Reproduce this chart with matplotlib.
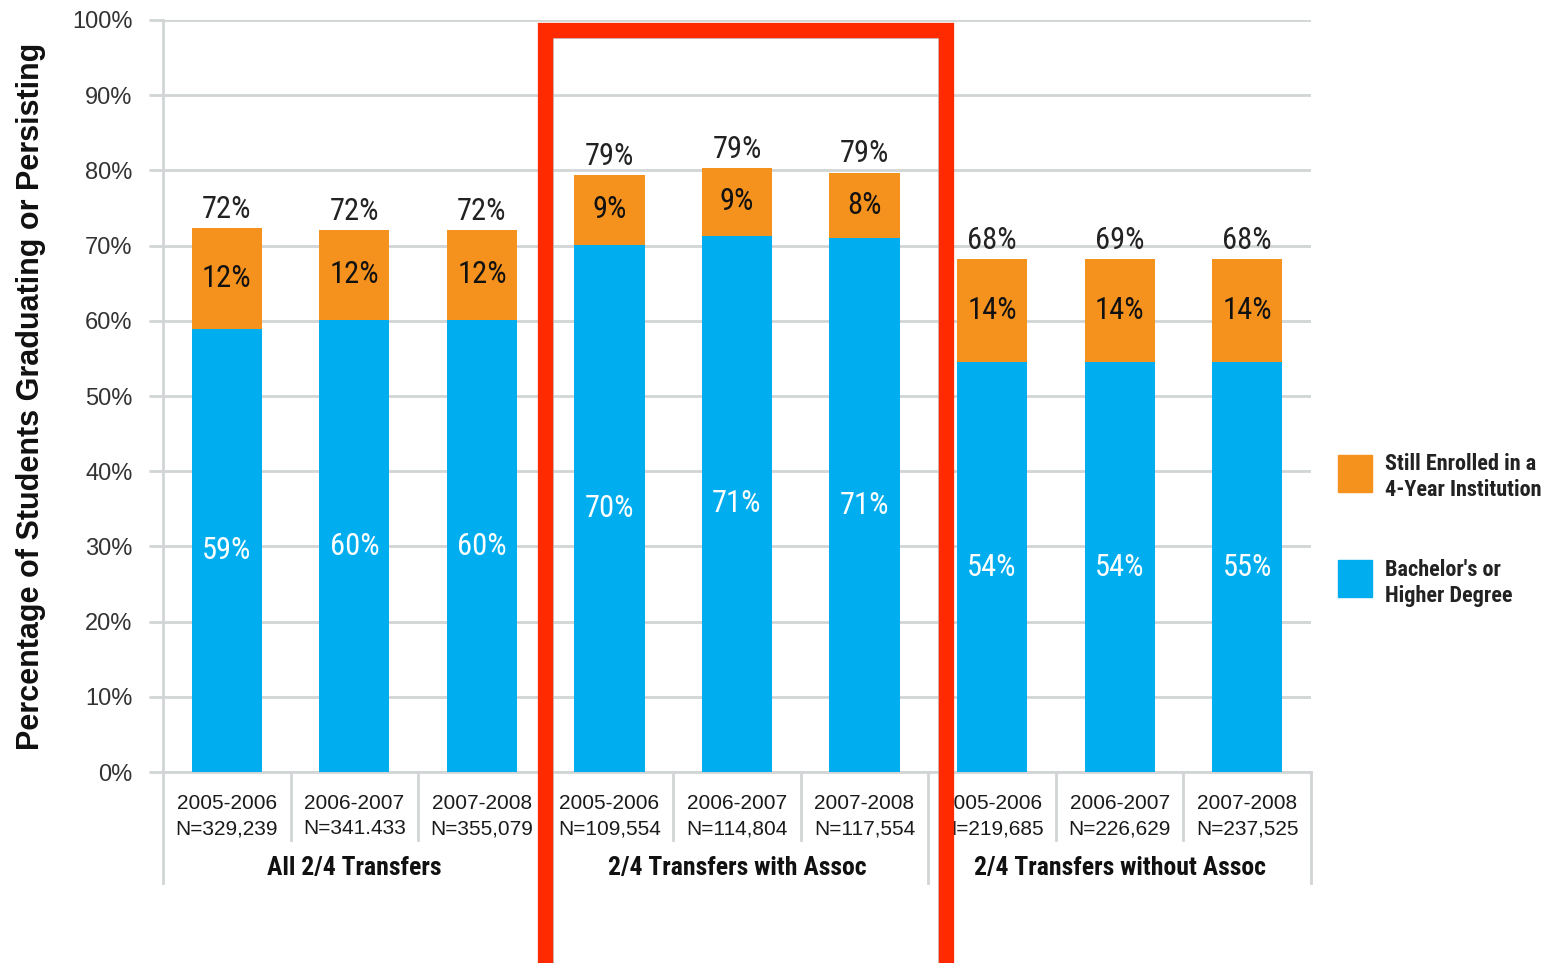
import matplotlib
matplotlib.use("Agg")
import matplotlib.pyplot as plt
from matplotlib.patches import Rectangle
import matplotlib.transforms as mtransforms

# data
years = ["2005-2006", "2006-2007", "2007-2008"] * 3
counts = ["N=329,239", "N=341.433", "N=355,079",
          "N=109,554", "N=114,804", "N=117,554",
          "N=219,685", "N=226,629", "N=237,525"]
groups = ["All 2/4 Transfers", "2/4 Transfers with Assoc", "2/4 Transfers without Assoc"]

# bar heights
bachelor = [58.9, 60.1, 60.1, 70.1, 71.3, 71.0, 54.5, 54.5, 54.5]
enrolled = [13.4, 12.0, 12.0, 9.3, 9.0, 8.7, 13.7, 13.7, 13.7]

# printed labels
bachelor_lbl = [59, 60, 60, 70, 71, 71, 54, 54, 55]
enrolled_lbl = [12, 12, 12, 9, 9, 8, 14, 14, 14]
total_lbl = [72, 72, 72, 79, 79, 79, 68, 69, 68]

BLUE = "#00AEEF"
ORANGE = "#F5921E"
GRID = "#D2D5D5"
RED = "#FF2A00"

NARROW = ["Roboto Condensed", "DejaVu Sans"]
plt.rcParams['font.family'] = ["Liberation Sans", "DejaVu Sans"]

W, H = 1556, 963
L, R = 163, 1311
fig = plt.figure(figsize=(15.56, 9.63), dpi=100)
ax = fig.add_axes([L / W, 1 - 772 / H, (R - L) / W, 752 / H])

x = list(range(len(bachelor)))
ax.bar(x, bachelor, width=0.55, color=BLUE, zorder=3)
ax.bar(x, enrolled, width=0.55, bottom=bachelor, color=ORANGE, zorder=3)

num_kw = dict(fontsize=22, family=NARROW, stretch="condensed")
for i in x:
    top = bachelor[i] + enrolled[i]
    ax.annotate(f"{total_lbl[i]}%", (i, top), xytext=(0, 3), textcoords="offset points",
                ha="center", va="bottom", color="#222222", **num_kw)
    ax.text(i, bachelor[i] + enrolled[i] / 2, f"{enrolled_lbl[i]}%", ha="center", va="center",
            color="#111111", zorder=4, **num_kw)
    ax.text(i, bachelor[i] / 2, f"{bachelor_lbl[i]}%", ha="center", va="center",
            color="white", zorder=4, **num_kw)

ax.set_xlim(-0.5, 8.5)
ax.set_ylim(0, 100)
ax.set_yticks(range(0, 101, 10))
ax.set_yticklabels([f"{v}%" for v in range(0, 101, 10)], fontsize=17, color="#333333")
ax.yaxis.grid(True, color=GRID, linewidth=2, zorder=0)
ax.tick_params(axis="y", length=10, width=2, color=GRID, pad=12)

ax.set_xticks(x)
ax.set_xticklabels([f"{y}\n{n}" for y, n in zip(years, counts)], fontsize=15,
                   color="#1a1a1a", linespacing=1.4)
ax.tick_params(axis="x", length=0, pad=16)

for s in ["top", "right"]:
    ax.spines[s].set_visible(False)
for s in ["left", "bottom"]:
    ax.spines[s].set_color(GRID)
    ax.spines[s].set_linewidth(2)

# separators below the axis
trans = mtransforms.blended_transform_factory(ax.transData, ax.transAxes)
for k in range(len(x) + 1):
    b = k - 0.5
    depth = -0.147 if k % 3 == 0 else -0.09
    ax.plot([b, b], [0, depth], color=GRID, linewidth=2, transform=trans, clip_on=False)

for g, name in enumerate(groups):
    ax.text(3 * g + 1, -0.127, name, transform=trans, ha="center", va="center",
            fontsize=18.5, fontweight="bold", family=NARROW, stretch="condensed",
            color="#111111")

ax.set_ylabel("Percentage of Students Graduating or Persisting", fontsize=22,
              fontweight="bold", color="#111111")
ax.yaxis.set_label_coords((46 - L) / (R - L), 0.5)

# legend
fig.patches.append(Rectangle((1338 / W, 1 - 492 / H), 34 / W, 37 / H,
                             transform=fig.transFigure, color=ORANGE))
fig.patches.append(Rectangle((1338 / W, 1 - 597 / H), 34 / W, 37 / H,
                             transform=fig.transFigure, color=BLUE))
leg_kw = dict(ha="left", va="center", fontsize=16, fontweight="bold", family=NARROW,
              stretch="condensed", color="#222222", linespacing=1.2)
fig.text(1385 / W, 1 - 477 / H, "Still Enrolled in a\n4-Year Institution", **leg_kw)
fig.text(1385 / W, 1 - 583 / H, "Bachelor's or\nHigher Degree", **leg_kw)

# red highlight frame with a faint inner shadow
fig.patches.append(Rectangle((553 / W, -0.05), (939 - 553) / W, 1.05 - 38 / H,
                             transform=fig.transFigure, fill=False, edgecolor="#BBBBBB",
                             linewidth=1.2, zorder=9))
fig.patches.append(Rectangle((545 / W, -0.05), (946 - 545) / W, 1.05 - 30 / H,
                             transform=fig.transFigure, fill=False, edgecolor=RED,
                             linewidth=11, zorder=10))

fig.savefig("out.png", dpi=100)
